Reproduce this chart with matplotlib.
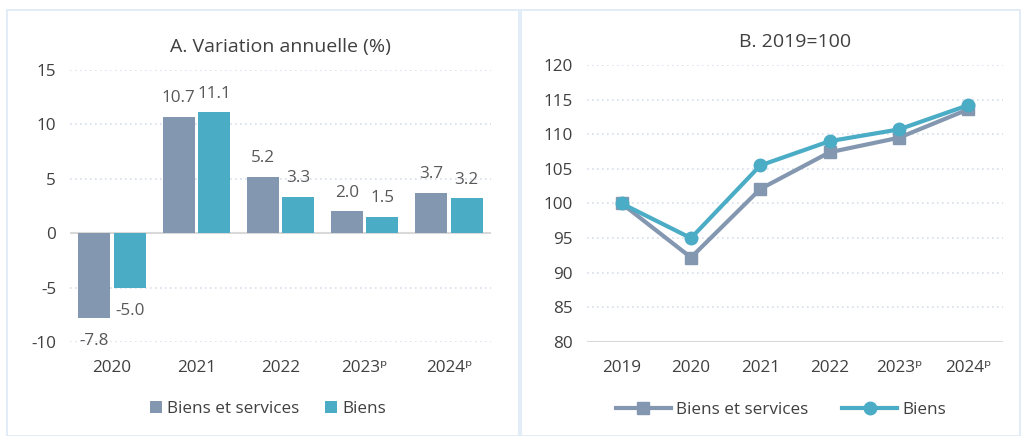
import matplotlib
matplotlib.use('Agg')
import matplotlib.pyplot as plt
import numpy as np
from matplotlib.patches import Rectangle

plt.rcParams['font.family'] = ['Open Sans', 'DejaVu Sans']
plt.rcParams['axes.unicode_minus'] = False

# --- data ---
bar_years = ['2020', '2021', '2022', '2023ᵖ', '2024ᵖ']
bar_bs = [-7.8, 10.7, 5.2, 2.0, 3.7]      # Biens et services
bar_b = [-5.0, 11.1, 3.3, 1.5, 3.2]        # Biens

line_years = ['2019', '2020', '2021', '2022', '2023ᵖ', '2024ᵖ']
idx_bs = [100.0, 92.2, 102.1, 107.4, 109.5, 113.6]
idx_b = [100.0, 95.0, 105.5, 109.0, 110.7, 114.2]

c_grey = '#8497B0'
c_teal = '#4BACC6'
c_text = '#404040'
c_lab = '#595959'
c_grid = '#D6DFEC'
c_frame = '#DCE9F5'

fig = plt.figure(figsize=(10.22, 4.36), dpi=100)
fig.patch.set_facecolor('white')

# panel frames
W, H = 1022, 436
fig.patches.append(Rectangle((7 / W, 0), (519 - 7) / W, 1 - 10 / H, transform=fig.transFigure,
                             fill=False, edgecolor=c_frame, linewidth=1.2))
fig.patches.append(Rectangle((521 / W, 0), (1020 - 521) / W, 1 - 10 / H, transform=fig.transFigure,
                             fill=False, edgecolor=c_frame, linewidth=1.2))

fs = 12.3

# === Panel A ===
ax = fig.add_axes([70 / W, 1 - 342 / H, (491 - 70) / W, (342 - 70) / H])
x = np.arange(len(bar_years))
w = 0.38
off = 0.21
ax.bar(x - off, bar_bs, w, color=c_grey, label='Biens et services', zorder=3)
ax.bar(x + off, bar_b, w, color=c_teal, label='Biens', zorder=3)
for i, (a, b) in enumerate(zip(bar_bs, bar_b)):
    for xx, v in ((i - off, a), (i + off, b)):
        if v >= 0:
            ax.text(xx, v + 1.0, f"{v:.1f}", ha='center', va='bottom', fontsize=fs, color=c_lab)
        else:
            ax.text(xx, v - 1.4, f"{v:.1f}", ha='center', va='top', fontsize=fs, color=c_lab)
ax.set_xlim(-0.5, 4.5)
ax.set_ylim(-10, 15)
ax.set_yticks([-10, -5, 0, 5, 10, 15])
ax.set_xticks(x)
ax.set_xticklabels(bar_years)
ax.tick_params(length=0, labelsize=fs, colors=c_text, pad=10)
ax.tick_params(axis='x', pad=13)
ax.grid(axis='y', linestyle=(0, (1, 2)), color=c_grid, linewidth=1.2, zorder=0)
ax.axhline(0, color='#D9D9D9', linewidth=1.5, zorder=2)
for s in ax.spines.values():
    s.set_visible(False)
ax.set_title('A. Variation annuelle (%)', fontsize=14, color=c_text, pad=13)
ax.legend(loc='upper center', bbox_to_anchor=(0.47, -0.16), ncol=2, frameon=False,
          fontsize=fs, handlelength=0.7, handleheight=0.7, handletextpad=0.3,
          columnspacing=1.5, labelcolor=c_text)

# === Panel B ===
ax = fig.add_axes([587 / W, 1 - 342 / H, (1003 - 587) / W, (342 - 65) / H])
xl = np.arange(len(line_years))
ax.plot(xl, idx_bs, color=c_grey, linewidth=3, marker='s', markersize=9, label='Biens et services', zorder=3)
ax.plot(xl, idx_b, color=c_teal, linewidth=3, marker='o', markersize=9, label='Biens', zorder=4)
ax.set_xlim(-0.5, 5.5)
ax.set_ylim(80, 120)
ax.set_yticks(range(80, 121, 5))
ax.set_xticks(xl)
ax.set_xticklabels(line_years)
ax.tick_params(length=0, labelsize=fs, colors=c_text, pad=10)
ax.tick_params(axis='x', pad=13)
ax.grid(axis='y', linestyle=(0, (1, 2)), color=c_grid, linewidth=1.2, zorder=0)
for s in ax.spines.values():
    s.set_visible(False)
ax.axhline(80, color='#D9D9D9', linewidth=1.5, zorder=2)
ax.set_title('B. 2019=100', fontsize=14, color=c_text, pad=13)
ax.legend(loc='upper center', bbox_to_anchor=(0.466, -0.16), ncol=2, frameon=False,
          fontsize=fs, handlelength=3.2, handletextpad=0.3, columnspacing=2.0,
          labelcolor=c_text)

fig.savefig('out.png', dpi=100, facecolor='white')
